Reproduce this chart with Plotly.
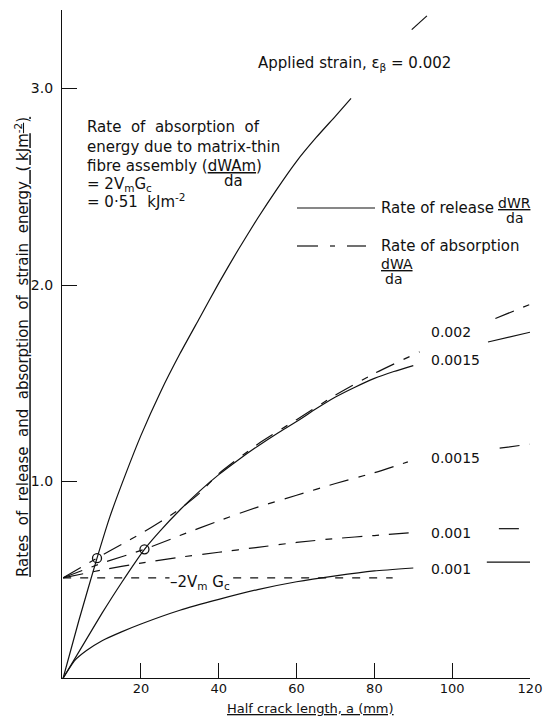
import plotly.graph_objects as go

# ---------------- data ----------------
# Rate of release dWR/da (solid), applied strain 0.002
rel_002_x = [0, 4, 8.7, 12, 16, 20, 25, 30, 35, 40, 45, 50, 55, 60, 65, 70, 74]
rel_002_y = [0, 0.29, 0.61, 0.82, 1.035, 1.235, 1.455, 1.65, 1.83, 2.01, 2.18, 2.34, 2.49, 2.63, 2.75, 2.86, 2.95]
rel_002_tail_x = [89.6, 93.5]
rel_002_tail_y = [3.30, 3.37]

# Rate of release, strain 0.0015
rel_0015_x = [0, 5, 10, 15, 20.9, 25, 30, 35, 40, 45, 50, 55, 60, 65, 70, 75, 80, 85, 90]
rel_0015_y = [0, 0.165, 0.33, 0.485, 0.655, 0.75, 0.855, 0.95, 1.035, 1.11, 1.18, 1.245, 1.305, 1.37, 1.43, 1.48, 1.525, 1.56, 1.59]
rel_0015_tail_x = [109.2, 120]
rel_0015_tail_y = [1.71, 1.76]

# Rate of release, strain 0.001
rel_001_x = [0, 3, 6, 10, 15, 20, 30, 40, 50, 60, 70, 80, 90]
rel_001_y = [0, 0.09, 0.14, 0.19, 0.235, 0.275, 0.345, 0.40, 0.45, 0.49, 0.52, 0.545, 0.56]
rel_001_tail_x = [108.9, 120]
rel_001_tail_y = [0.59, 0.59]

# Rate of absorption dWA/da (dashed), strain 0.002
abs_002_x = [0, 8.7, 15, 20, 25, 30, 35, 40, 50, 60, 70, 80, 91.6]
abs_002_y = [0.51, 0.61, 0.68, 0.735, 0.795, 0.86, 0.94, 1.04, 1.19, 1.315, 1.44, 1.55, 1.66]
abs_002_tail_x = [111.1, 119.8]
abs_002_tail_y = [1.83, 1.90]

# Rate of absorption, strain 0.0015
abs_0015_x = [0, 10, 20.9, 30, 40, 50, 60, 70, 80, 88.6]
abs_0015_y = [0.51, 0.585, 0.655, 0.725, 0.80, 0.87, 0.93, 0.99, 1.045, 1.10]
abs_0015_tail_x = [112.2, 119.9]
abs_0015_tail_y = [1.17, 1.19]

# Rate of absorption, strain 0.001
abs_001_x = [0, 10, 20, 30, 40, 50, 60, 70, 80, 90]
abs_001_y = [0.51, 0.55, 0.585, 0.615, 0.64, 0.665, 0.69, 0.71, 0.725, 0.74]
abs_001_tail_x = [112, 119.5]
abs_001_tail_y = [0.76, 0.76]

# Matrix-thin fibre assembly absorption 2VmGc
matrix_x = [0, 84.7]
matrix_y = [0.51, 0.51]

# Intersection points (circles)
cross_x = [8.7, 20.9]
cross_y = [0.61, 0.655]

x_ticks = [20, 40, 60, 80, 100, 120]
x_ticklabels = ["20", "40", "60", "80", "100", "120"]
y_ticks = [1, 2, 3]
y_ticklabels = ["1.0", "2.0", "3.0"]

strain_labels = ["0.002", "0.0015", "0.0015", "0.001", "0.001"]

# ---------------- layout geometry ----------------
W, H = 552, 718
L, R, T, B = 62, 22, 10, 40
XR = [-0.3, 120]
YR = [0, 3.4]
XS = (W - L - R) / (XR[1] - XR[0])
YS = (H - T - B) / (YR[1] - YR[0])


def dx(px):
    return XR[0] + (px - L) / XS


def dy(py):
    return YR[0] + (H - B - py) / YS


FONT = "DejaVu Sans"
INK = "#111111"
LW = 1.2
DASH = "20px,10px,7px,10px"
SP = "&nbsp;"

fig = go.Figure()


def add_line(x, y, dash="solid"):
    fig.add_trace(go.Scatter(x=x, y=y, mode="lines",
                             line=dict(color=INK, width=LW, dash=dash, shape="spline", smoothing=0.5),
                             showlegend=False, hoverinfo="skip"))


add_line(rel_002_x, rel_002_y)
add_line(rel_002_tail_x, rel_002_tail_y)
add_line(rel_0015_x, rel_0015_y)
add_line(rel_0015_tail_x, rel_0015_tail_y)
add_line(rel_001_x, rel_001_y)
add_line(rel_001_tail_x, rel_001_tail_y)
add_line(abs_002_x, abs_002_y, DASH)
add_line(abs_002_tail_x, abs_002_tail_y, DASH)
add_line(abs_0015_x, abs_0015_y, DASH)
add_line(abs_0015_tail_x, abs_0015_tail_y, DASH)
add_line(abs_001_x, abs_001_y, DASH)
add_line(abs_001_tail_x, abs_001_tail_y, DASH)
add_line(matrix_x, matrix_y, "8px,9px")

fig.add_trace(go.Scatter(x=cross_x, y=cross_y, mode="markers",
                         marker=dict(symbol="circle-open", size=9, color=INK, line=dict(width=1.3, color=INK)),
                         showlegend=False, hoverinfo="skip"))

ann = []


def text(s, px, py, size=15, xanchor="left", yanchor="middle", bg=None, angle=0, paper=False):
    d = dict(text=s, showarrow=False, xanchor=xanchor, yanchor=yanchor,
             font=dict(family=FONT, size=size, color=INK), textangle=angle)
    if paper:
        d.update(xref="paper", yref="paper",
                 x=(px - L) / (W - L - R), y=(H - B - py) / (H - T - B))
    else:
        d.update(xref="x", yref="y", x=dx(px), y=dy(py))
    if bg:
        d.update(bgcolor=bg, borderpad=0)
    ann.append(d)


# titles and notes
text("Applied strain, ε<sub>β</sub> = 0.002", 256, 63)
text("Rate " + SP + "of " + SP + "absorption " + SP + "of", 85, 127)
text("energy due to matrix-thin", 85, 147)
text("fibre assembly (<u>dWAm</u>)", 85, 166)
text("da", 233, 181, xanchor="center")
text("= 2V<sub>m</sub>G<sub>c</sub>", 85, 184)
text("= 0·51 " + SP + "kJm<sup>-2</sup>", 85, 201)

# legend texts
text("Rate of release", 379, 208)
text("<u>dWR</u>", 514, 203, xanchor="center", size=14)
text("da", 514, 218, xanchor="center", size=14)
text("Rate of absorption", 379, 246)
text("<u>dWA</u>", 379, 264, size=14)
text("da", 383, 279, size=14)

# curve labels
for s, py in zip(strain_labels, [332, 360, 458, 533, 569]):
    text(s, 429, py, size=14)

text("–2V<sub>m</sub> G<sub>c</sub>", 200, 582, xanchor="center", bg="white")

# axis titles
text("<u>Half crack length, a (mm)</u>", 310, 708, xanchor="center", size=13, paper=True)
ytitle = (" " + SP).join(["Rates", "of", "release", "and", "absorption", "of", "strain", "energy"])
text("<u>" + ytitle + " " + SP + "( kJm<sup>-2</sup>)</u>", 22, 347,
     xanchor="center", angle=-90, paper=True)

shapes = [
    dict(type="line", xref="x", yref="y", x0=dx(297), x1=dx(375), y0=dy(208), y1=dy(208),
         line=dict(color=INK, width=LW)),
    dict(type="line", xref="x", yref="y", x0=dx(297), x1=dx(318), y0=dy(246), y1=dy(246),
         line=dict(color=INK, width=LW)),
    dict(type="line", xref="x", yref="y", x0=dx(330), x1=dx(335), y0=dy(246), y1=dy(246),
         line=dict(color=INK, width=LW)),
    dict(type="line", xref="x", yref="y", x0=dx(347), x1=dx(366), y0=dy(246), y1=dy(246),
         line=dict(color=INK, width=LW)),
]

fig.update_layout(
    width=W, height=H,
    margin=dict(l=L, r=R, t=T, b=B, pad=0),
    plot_bgcolor="white", paper_bgcolor="white",
    font=dict(family=FONT, size=13, color=INK),
    annotations=ann, shapes=shapes,
    xaxis=dict(range=XR, showgrid=False, zeroline=False, showline=True, linecolor=INK, linewidth=LW,
               ticks="inside", ticklen=15, tickwidth=LW, tickcolor=INK,
               tickvals=x_ticks, ticktext=x_ticklabels, ticklabelstandoff=-2,
               tickfont=dict(family=FONT, size=13, color=INK)),
    yaxis=dict(range=YR, showgrid=False, zeroline=False, showline=True, linecolor=INK, linewidth=LW,
               ticks="inside", ticklen=15, tickwidth=LW, tickcolor=INK,
               tickvals=y_ticks, ticktext=y_ticklabels, ticklabelstandoff=5,
               tickfont=dict(family=FONT, size=14, color=INK)),
)

fig.write_html("out.html", config={"displayModeBar": False},
               post_script="document.body.style.margin='0px';document.body.style.overflow='hidden';")
